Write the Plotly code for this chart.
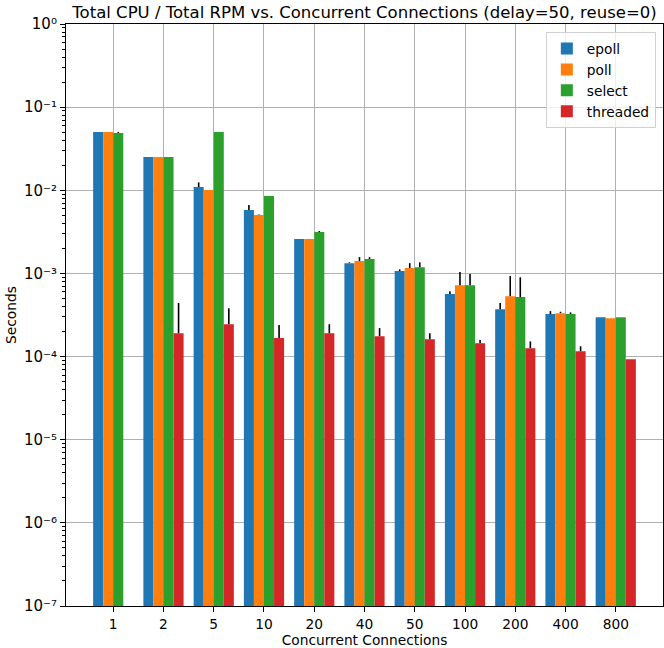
import plotly.graph_objects as go

categories = ["1", "2", "5", "10", "20", "40", "50", "100", "200", "400", "800"]

epoll = [0.0502, 0.0251, 0.01094, 0.00578, 0.00259, 0.00133, 0.00107, 0.000564, 0.000372, 0.000324, 0.000298]
poll = [0.0502, 0.0251, 0.01005, 0.00503, 0.00259, 0.00141, 0.00116, 0.000723, 0.000533, 0.000333, 0.000290]
select = [0.0490, 0.0251, 0.0502, 0.00851, 0.00314, 0.00149, 0.00119, 0.000723, 0.000519, 0.000324, 0.000298]
threaded = [None, 0.000191, 0.000245, 0.000167, 0.000191, 0.000176, 0.000162, 0.000145, 0.000126, 0.000116, 0.000093]

epoll_err = [0, 0, 0.0015, 0.00086, 0, 0.00003, 0.00005, 0.000048, 0.000068, 0.000028, 0]
poll_err = [0, 0, 0, 0.0001, 0, 0.00016, 0.00017, 0.00032, 0.0004, 0.000013, 0]
select_err = [0.0014, 0, 0, 0, 0.0001, 0.00008, 0.00017, 0.00026, 0.00038, 0.000016, 0]
threaded_err = [0, 0.00025, 0.000135, 0.000072, 0.000054, 0.000044, 0.000029, 0.000013, 0.000026, 0.000017, 0]

ytick_exponents = [-7, -6, -5, -4, -3, -2, -1, 0]

series = [
    ("epoll", epoll, epoll_err, "#1f77b4"),
    ("poll", poll, poll_err, "#ff7f0e"),
    ("select", select, select_err, "#2ca02c"),
    ("threaded", threaded, threaded_err, "#d62728"),
]

FONT = "DejaVu Sans"
SUP = str.maketrans("-0123456789", "\u207b\u2070\u00b9\u00b2\u00b3\u2074\u2075\u2076\u2077\u2078\u2079")

fig = go.Figure()
for name, vals, errs, color in series:
    fig.add_trace(go.Bar(
        x=categories, y=vals, name=name,
        marker=dict(color=color, line=dict(width=0)),
        error_y=dict(type="data", symmetric=False, array=errs,
                     arrayminus=[0] * len(errs), color="black",
                     thickness=1.6, width=0),
    ))

ytickvals = [10.0 ** k for k in ytick_exponents]
yticktext = ["10" + str(k).translate(SUP) for k in ytick_exponents]

fig.update_layout(
    width=664, height=648,
    margin=dict(l=66, r=1, t=24, b=42),
    paper_bgcolor="white", plot_bgcolor="white",
    font=dict(family=FONT, size=13.75, color="black"),
    barmode="group", bargap=0.2, bargroupgap=0,
    title=dict(text="Total CPU / Total RPM vs. Concurrent Connections (delay=50, reuse=0)",
               x=0.5, xref="paper", xanchor="center",
               y=1, yref="paper", yanchor="bottom", pad=dict(b=6),
               font=dict(family=FONT, size=16.5, color="black")),
    legend=dict(x=0.988, y=0.986, xanchor="right", yanchor="top",
                bgcolor="rgba(255,255,255,0.8)", bordercolor="#d0d0d0", borderwidth=1,
                font=dict(family=FONT, size=13.75), itemwidth=30,
                tracegroupgap=4),
    xaxis=dict(type="category", range=[-0.94, 10.94],
               showgrid=True, gridcolor="#b0b0b0", gridwidth=1.1,
               showline=True, mirror=True, linecolor="black", linewidth=1.1,
               ticks="outside", ticklen=5, tickwidth=1.1, tickcolor="black",
               title=dict(text="Concurrent Connections", standoff=4,
                          font=dict(family=FONT, size=13.75))),
    yaxis=dict(type="log", range=[-7, 0],
               tickvals=ytickvals, ticktext=yticktext,
               tickfont=dict(family=FONT, size=15),
               showgrid=True, gridcolor="#b0b0b0", gridwidth=1.1,
               showline=True, mirror=True, linecolor="black", linewidth=1.1,
               ticks="outside", ticklen=5, tickwidth=1.1, tickcolor="black",
               minor=dict(tickmode="linear", dtick="D1", ticks="outside", ticklen=2.7,
                          tickwidth=0.8, tickcolor="black", showgrid=False),
               zeroline=False,
               title=dict(text="Seconds", standoff=4,
                          font=dict(family=FONT, size=13.75))),
)

fig.write_html("out.html")
